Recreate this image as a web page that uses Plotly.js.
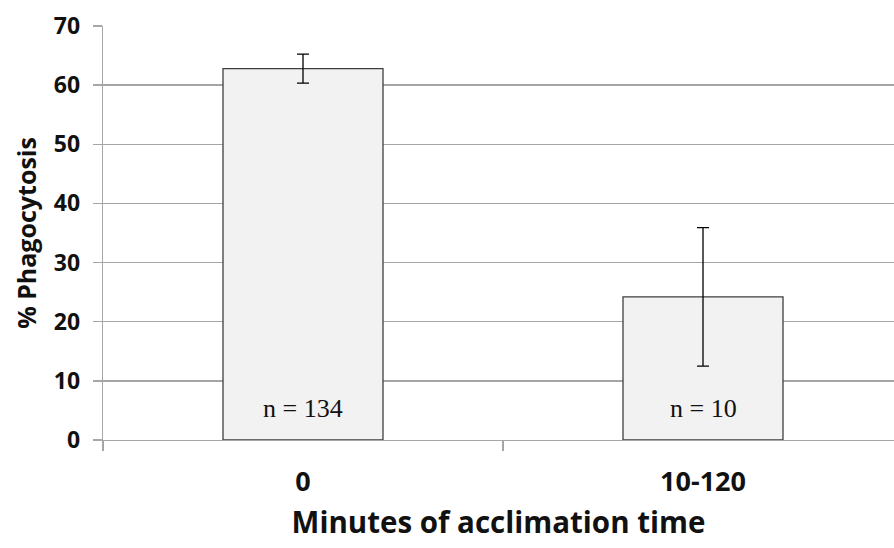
<!DOCTYPE html>
<html>
<head>
<meta charset="utf-8">
<script src="https://cdn.plot.ly/plotly-3.0.1.min.js"></script>
<style>html,body{margin:0;padding:0;background:#fff;}#chart{width:894px;height:548px;}</style>
</head>
<body>
<div id="chart"></div>
<script>
const categories = ["0", "10-120"];
const phagocytosis = [62.8, 24.2];
const errorValues = [2.45, 11.7];
const sampleLabels = ["n = 134", "n = 10"];
const yTicks = [0, 10, 20, 30, 40, 50, 60, 70];

const trace = {
  type: "bar",
  x: categories,
  y: phagocytosis,
  width: 0.4,
  marker: { color: "#f2f2f2", line: { color: "#3f3f3f", width: 1.3 } },
  error_y: { type: "data", array: errorValues, visible: true, color: "#000", thickness: 1.3, width: 6 },
  hoverinfo: "none"
};

const annotations = categories.map((c, i) => ({
  x: c, y: 0, xref: "x", yref: "y",
  text: sampleLabels[i], showarrow: false,
  yanchor: "bottom", yshift: 15,
  font: { family: "Liberation Serif, Times New Roman, serif", size: 26, color: "#111" }
}));

const layout = {
  width: 894, height: 548,
  margin: { l: 103, r: 0, t: 26, b: 108 },
  paper_bgcolor: "#fff", plot_bgcolor: "#fff",
  showlegend: false,
  font: { family: "Open Sans, sans-serif", color: "#111" },
  xaxis: {
    type: "category",
    range: [-0.5, 1.4775],
    tickson: "boundaries",
    ticks: "outside", ticklen: 10, tickcolor: "#a6a6a6", tickwidth: 1.3,
    showline: true, linecolor: "#a6a6a6", linewidth: 1.3,
    showgrid: false, zeroline: false,
    tickfont: { family: "Open Sans, sans-serif", size: 27, weight: "bold", color: "#111" },
    ticklabelstandoff: 17,
    title: { text: "Minutes of acclimation time", font: { family: "Open Sans, sans-serif", size: 29.5, weight: "bold", color: "#111" }, standoff: 14 },
    automargin: false
  },
  yaxis: {
    range: [0, 70],
    tickvals: yTicks,
    ticks: "outside", ticklen: 9, tickcolor: "#a6a6a6", tickwidth: 1.3,
    showline: true, linecolor: "#a6a6a6", linewidth: 1.3,
    showgrid: true, gridcolor: "#a6a6a6", gridwidth: 1.3,
    zeroline: false,
    tickfont: { family: "Open Sans, sans-serif", size: 23, weight: "bold", color: "#111" },
    ticklabelstandoff: 8,
    title: { text: "% Phagocytosis", font: { family: "Open Sans, sans-serif", size: 25, weight: "bold", color: "#111" }, standoff: 10 },
    automargin: false
  },
  annotations: annotations
};

Plotly.newPlot("chart", [trace], layout, { displayModeBar: false, staticPlot: true });
</script>
</body>
</html>
